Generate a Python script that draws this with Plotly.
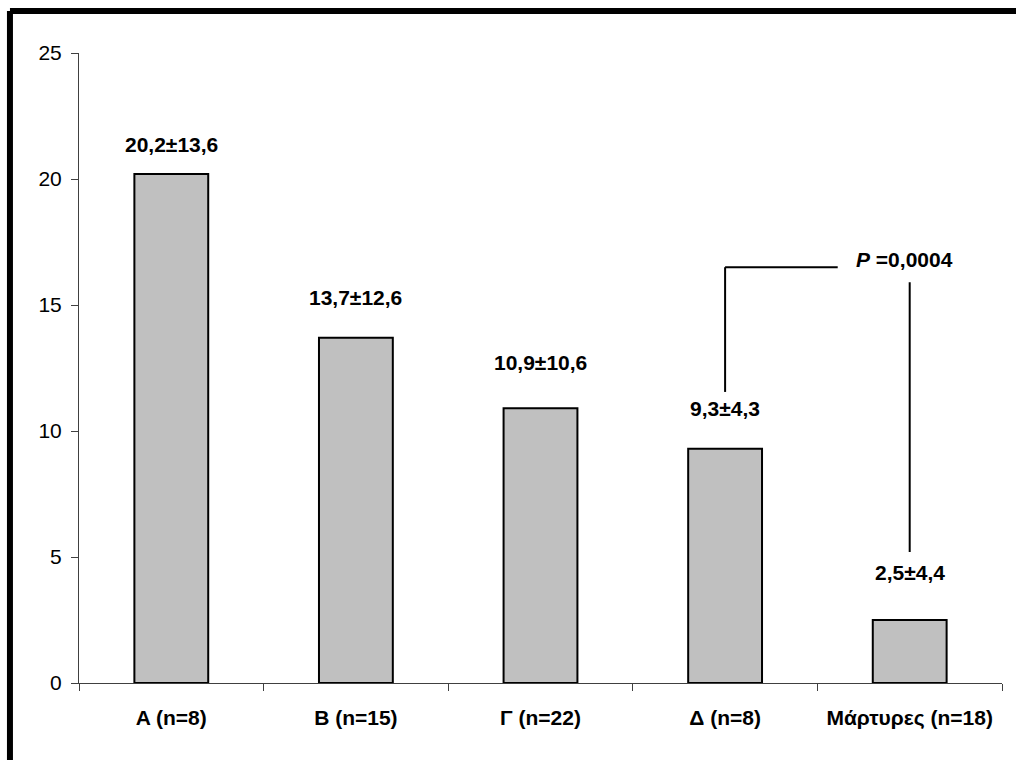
import plotly.graph_objects as go

# Group means and their standard deviations
groups = ["A (n=8)", "B (n=15)", "Γ (n=22)", "Δ (n=8)", "Μάρτυρες (n=18)"]
means = [20.2, 13.7, 10.9, 9.3, 2.5]
sds = [13.6, 12.6, 10.6, 4.3, 4.4]
p_value = "0,0004"

# Heights (in axis units) where the mean±SD captions sit
caption_y = [21.35, 15.3, 12.7, 10.9, 4.4]

y_ticks = [0, 5, 10, 15, 20, 25]

FONT = "Liberation Sans, Arial, sans-serif"

fig = go.Figure()
fig.add_trace(go.Bar(
    x=groups,
    y=means,
    marker=dict(color="#C0C0C0", line=dict(color="#000000", width=2)),
    width=0.4,
    hoverinfo="skip",
))

def fmt(v):
    return f"{v:.1f}".replace(".", ",")

for i, (m, s) in enumerate(zip(means, sds)):
    fig.add_annotation(
        x=i, y=caption_y[i], xref="x", yref="y",
        text=f"<b>{fmt(m)}±{fmt(s)}</b>",
        showarrow=False,
        font=dict(family=FONT, size=21, color="#000000"),
    )

# Significance bracket between Δ and the control group
line = dict(color="#000000", width=2)
fig.add_shape(type="line", xref="x", yref="y", x0=3, x1=3, y0=11.55, y1=16.5, line=line)
fig.add_shape(type="line", xref="x", yref="y", x0=3, x1=3.61, y0=16.5, y1=16.5, line=line)
fig.add_shape(type="line", xref="x", yref="y", x0=4, x1=4, y0=5.2, y1=15.9, line=line)
fig.add_annotation(
    x=3.97, y=16.8, xref="x", yref="y",
    text=f"<b><i>P</i> ={p_value}</b>",
    showarrow=False,
    font=dict(family=FONT, size=21, color="#000000"),
)

# Heavy frame along the top and left edges of the page
frame = dict(color="#000000", width=6)
fig.add_shape(type="line", xref="paper", yref="paper",
              x0=-0.0748, x1=-0.0748, y0=-0.5, y1=1.0667, line=frame)
fig.add_shape(type="line", xref="paper", yref="paper",
              x0=-0.0748, x1=1.5, y0=1.0667, y1=1.0667, line=frame)

fig.update_layout(
    width=1016,
    height=760,
    margin=dict(l=79, r=14, t=53, b=77),
    paper_bgcolor="#FFFFFF",
    plot_bgcolor="#FFFFFF",
    showlegend=False,
    font=dict(family=FONT, size=21, color="#000000"),
    xaxis=dict(
        type="category",
        range=[-0.5, 4.5],
        tickson="boundaries",
        ticks="outside",
        ticklen=7,
        tickcolor="#404040",
        showline=True,
        linecolor="#404040",
        linewidth=1,
        showgrid=False,
        ticklabelstandoff=16,
        tickfont=dict(family=FONT, size=21, color="#000000", weight="bold"),
        fixedrange=True,
    ),
    yaxis=dict(
        range=[0, 25],
        tickvals=y_ticks,
        ticktext=[str(t) for t in y_ticks],
        ticks="outside",
        ticklen=7,
        tickcolor="#404040",
        showline=True,
        linecolor="#404040",
        linewidth=1,
        showgrid=False,
        zeroline=False,
        ticklabelstandoff=5,
        tickfont=dict(family=FONT, size=21, color="#000000"),
        fixedrange=True,
    ),
)

fig.write_html("out.html")
